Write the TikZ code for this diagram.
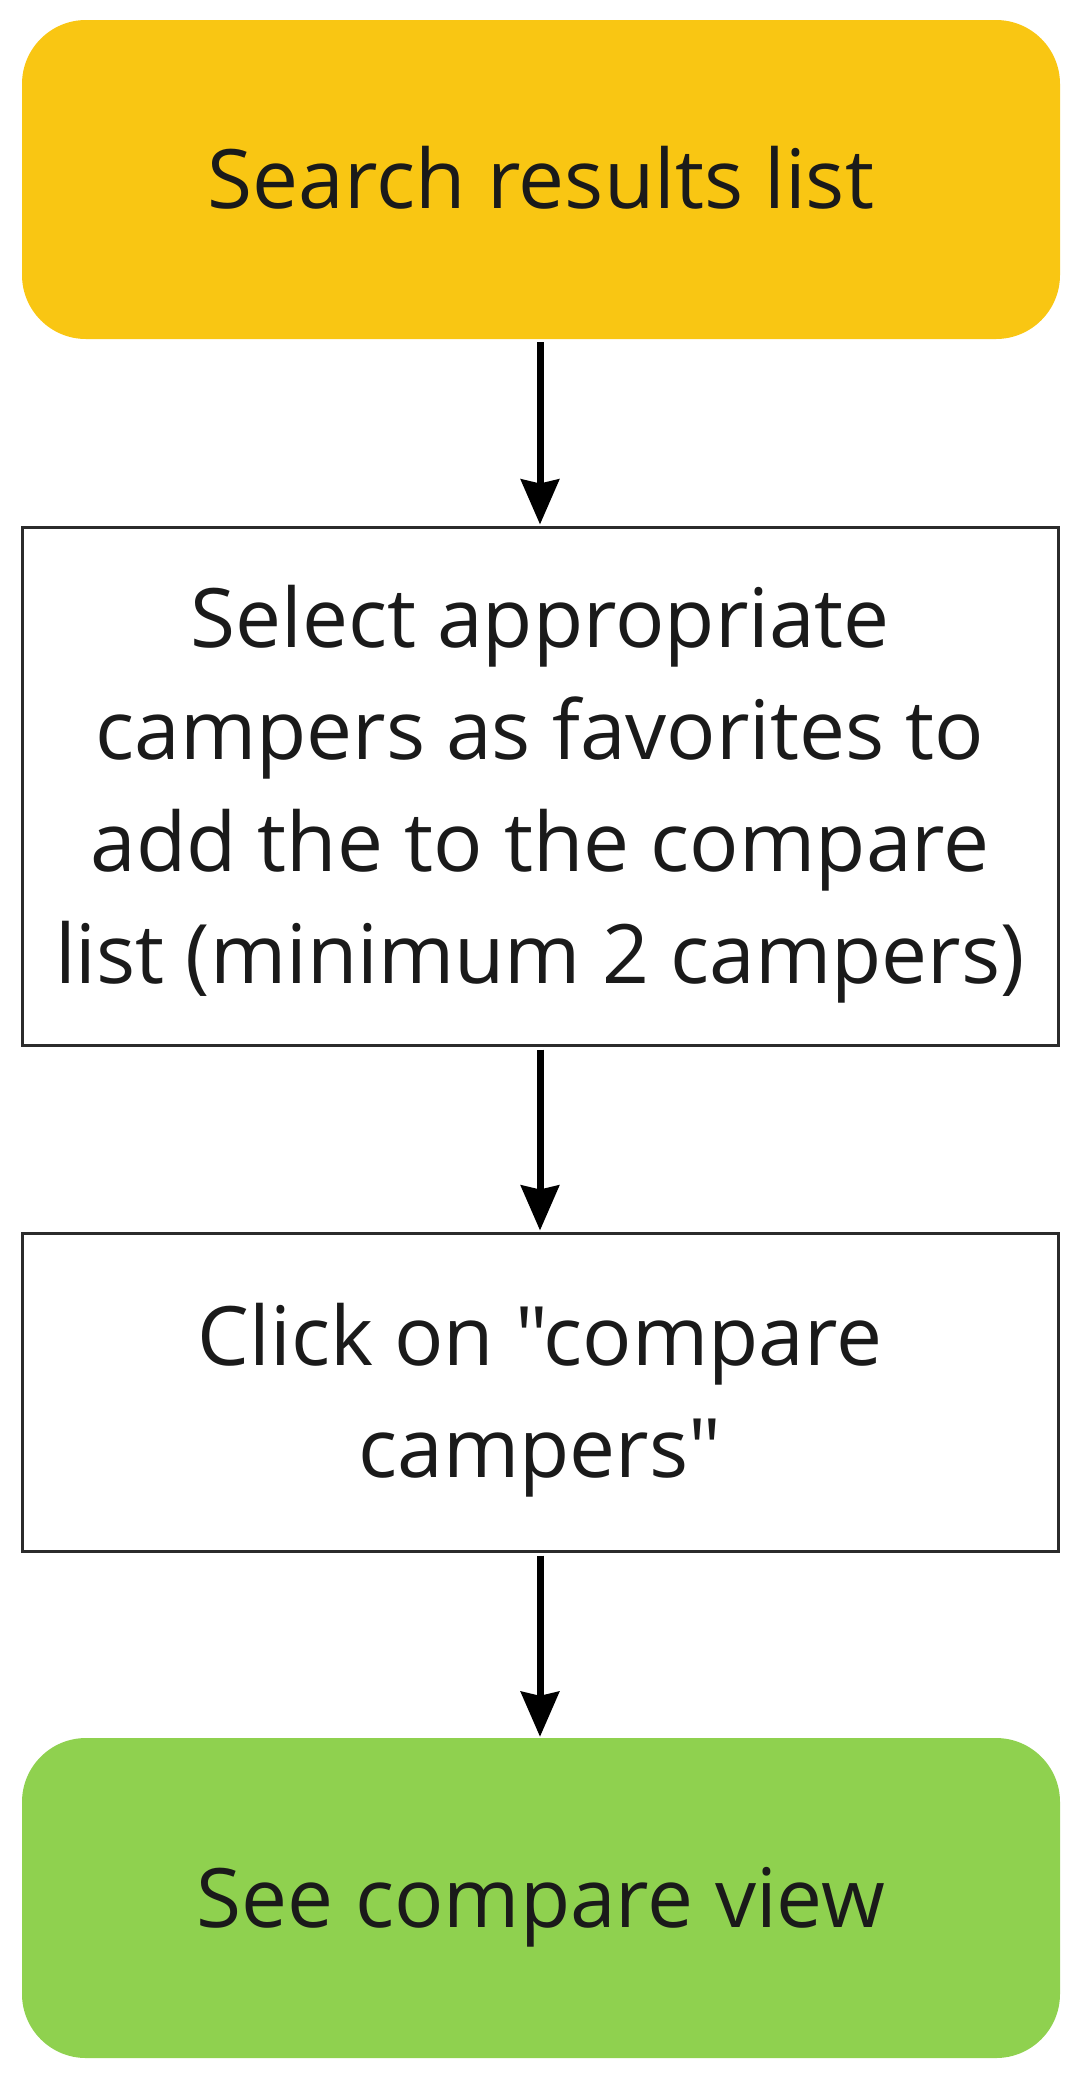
\documentclass[tikz,border=0pt]{standalone}
\usepackage{fontspec}
\setmainfont{Open Sans}[Ligatures=TeXOff]
\usetikzlibrary{arrows.meta}
\definecolor{yel}{HTML}{F9C613}
\definecolor{grn}{HTML}{8FD14F}
\definecolor{txt}{HTML}{1A1A1A}
\definecolor{brd}{HTML}{2B2B2B}
\begin{document}
\begin{tikzpicture}[x=1pt,y=-1pt,
  base/.style={minimum width=1038pt, inner sep=0pt, align=center, text=txt,
    font=\fontsize{82}{112}\selectfont, text height=58.5pt, text depth=0pt},
  term/.style={base, rounded corners=64pt},
  stepbox/.style={base, draw=brd, line width=3pt},
  conn/.style={line width=7pt, -{Stealth[length=45pt,width=38pt,inset=4pt]}, shorten <=3pt, shorten >=1pt}]
\useasboundingbox (0,0) rectangle (1084,2089);
\node[term, fill=yel, minimum height=319pt] (A) at (541,179.5) {Search results list};
\node[stepbox, minimum width=1036pt, minimum height=518pt, text height=394.5pt] (B) at (540,786) {Select appropriate\\campers as favorites to\\add the to the compare\\list (minimum 2 campers)};
\node[stepbox, minimum width=1036pt, minimum height=318pt, text height=170.5pt] (C) at (540,1392) {Click on "compare\\campers"};
\node[term, fill=grn, minimum height=320pt] (D) at (541,1898) {See compare view};
\draw[conn] (A.south -| 540,0) -- (B.north -| 540,0);
\draw[conn] (B.south) -- (C.north);
\draw[conn] (C.south) -- (D.north -| 540,0);
\end{tikzpicture}
\end{document}
